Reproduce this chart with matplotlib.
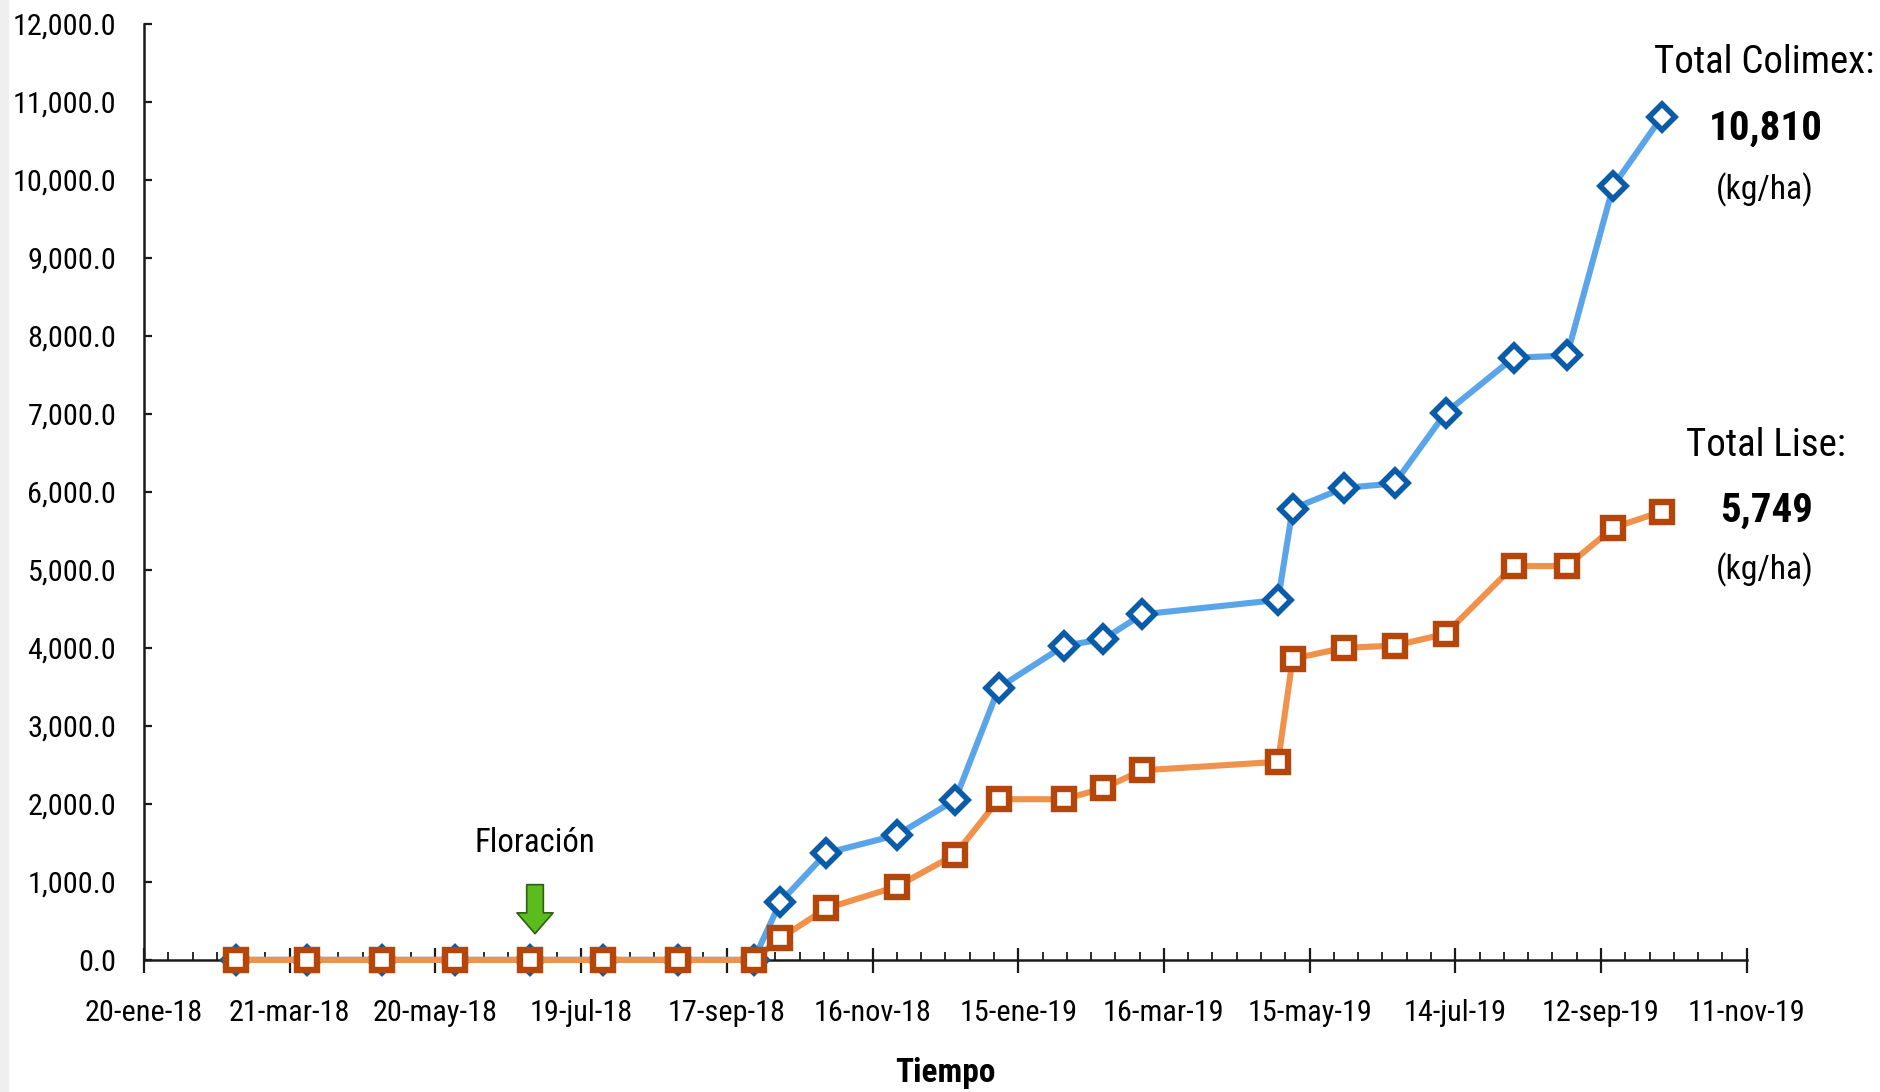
import matplotlib
matplotlib.use("Agg")
import matplotlib.pyplot as plt
import matplotlib.dates as mdates
from matplotlib.ticker import FixedLocator, FuncFormatter
from matplotlib import font_manager as fm
from matplotlib.textpath import text_to_path
from matplotlib.patches import Rectangle
import numpy as np
from datetime import datetime

# ---------------- data ----------------
dates = ['2018-02-27', '2018-03-28', '2018-04-28', '2018-05-28', '2018-06-28',
         '2018-07-28', '2018-08-28', '2018-09-28', '2018-10-09', '2018-10-28',
         '2018-11-26', '2018-12-20', '2019-01-07', '2019-02-03', '2019-02-19',
         '2019-03-07', '2019-05-02', '2019-05-08', '2019-05-29', '2019-06-19',
         '2019-07-10', '2019-08-07', '2019-08-29', '2019-09-17', '2019-10-07']
colimex = [0, 0, 0, 0, 0, 0, 0, 0, 740, 1370, 1600, 2050, 3490, 4030, 4110,
           4430, 4615, 5785, 6050, 6110, 7015, 7720, 7750, 9920, 10810]
lise = [0, 0, 0, 0, 0, 0, 0, 0, 277, 660, 940, 1350, 2060, 2060, 2200,
        2430, 2540, 3860, 4000, 4030, 4180, 5050, 5050, 5540, 5749]

x_tick_dates = ['2018-01-20', '2018-03-21', '2018-05-20', '2018-07-19',
                '2018-09-17', '2018-11-16', '2019-01-15', '2019-03-16',
                '2019-05-15', '2019-07-14', '2019-09-12', '2019-11-11']
x_tick_labels = ['20-ene-18', '21-mar-18', '20-may-18', '19-jul-18',
                 '17-sep-18', '16-nov-18', '15-ene-19', '16-mar-19',
                 '15-may-19', '14-jul-19', '12-sep-19', '11-nov-19']
y_ticks = list(range(0, 12001, 1000))

floracion_date = '2018-06-30'

# ---------------- font choice (narrow if available) ----------------
avail = {(f.name, f.stretch) for f in fm.fontManager.ttflist}
avail_names = {n for n, _ in avail}
family, stretch = 'Roboto', 'normal'
for cand in ['Liberation Sans Narrow', 'Arial Narrow', 'Roboto Condensed',
             'Open Sans Condensed', 'Noto Sans Condensed']:
    if cand in avail_names:
        family, stretch = cand, 'normal'
        break
else:
    if any(n == 'DejaVu Sans' and s in ('condensed', 'semi-condensed') for n, s in avail):
        family, stretch = 'DejaVu Sans', 'condensed'
    elif 'Roboto' not in avail_names:
        family = 'DejaVu Sans'

FONT = [family, 'DejaVu Sans']
plt.rcParams['font.family'] = FONT
plt.rcParams['font.stretch'] = stretch


def fit_size(text, target_px, weight='normal', max_pt=40):
    prop = fm.FontProperties(family=FONT, weight=weight, stretch=stretch, size=10)
    w, h, d = text_to_path.get_text_width_height_descent(text, prop, ismath=False)
    px_per_pt_at10 = w * 100 / 72 / 10
    return min(max_pt, target_px / px_per_pt_at10)


tick_size = min(fit_size('12,000.0', 104), fit_size('20-ene-18', 118))
title_size = fit_size('Total Colimex:', 221)
num_size = fit_size('10,810', 114, weight='bold')
unit_size = fit_size('(kg/ha)', 98)
flor_size = fit_size('Floración', 121)
xl_size = fit_size('Tiempo', 100, weight='bold')

fig = plt.figure(figsize=(18.81, 10.92), dpi=100)
fig.patches.append(Rectangle((0, 0), 0.004, 1, transform=fig.transFigure,
                             color='#EFEFEF', zorder=0))
ax = fig.add_axes([0.0766, 0.121, 0.852, 0.857])

to_dt = lambda s: datetime.strptime(s, '%Y-%m-%d')
xd = [to_dt(d) for d in dates]

ax.plot(xd, colimex, color='#5AA5EA', lw=4.4, marker='D', markersize=13.5,
        markerfacecolor='white', markeredgecolor='#0A5CA8', markeredgewidth=4.0,
        zorder=3, clip_on=False)
ax.plot(xd, lise, color='#F0924C', lw=4.4, marker='s', markersize=15,
        markerfacecolor='white', markeredgecolor='#B4460A', markeredgewidth=4.6,
        zorder=4, clip_on=False)

x0 = to_dt(x_tick_dates[0])
x1 = to_dt(x_tick_dates[-1])
ax.set_xlim(x0, x1)
ax.set_ylim(0, 12000)

major = [mdates.date2num(to_dt(d)) for d in x_tick_dates]
ax.xaxis.set_major_locator(FixedLocator(major))
ax.set_xticklabels(x_tick_labels)
minor = np.arange(major[0], major[-1] + 0.1, 10)
ax.xaxis.set_minor_locator(FixedLocator(minor))

ax.set_yticks(y_ticks)
ax.yaxis.set_major_formatter(FuncFormatter(lambda v, p: f'{v:,.1f}'))

for s in ['top', 'right']:
    ax.spines[s].set_visible(False)
for s in ['left', 'bottom']:
    ax.spines[s].set_linewidth(1.8)
    ax.spines[s].set_color('#1a1a1a')

ax.tick_params(axis='x', which='major', direction='inout', length=18, width=1.6,
               labelsize=tick_size, pad=19, color='#1a1a1a')
ax.tick_params(axis='x', which='minor', direction='in', length=6, width=1.3,
               color='#1a1a1a')
ax.tick_params(axis='y', which='major', direction='in', length=6, width=1.6,
               labelsize=tick_size, pad=20, color='#1a1a1a')

ax.set_xlabel('Tiempo', fontsize=xl_size, fontweight='bold', labelpad=22)

# Floración arrow
fx = to_dt(floracion_date)
ax.annotate('', xy=(fx, 300), xytext=(fx, 1000),
            arrowprops=dict(arrowstyle='simple,head_width=2.6,head_length=1.5,tail_width=1.2',
                            mutation_scale=10, fc='#5CBB1E', ec='#2F5F10', lw=1.2))
ax.text(fx, 1500, 'Floración', fontsize=flor_size, ha='center', va='center')

# Totals annotations
fig.text(0.938, 0.943, 'Total Colimex:', fontsize=title_size, ha='center', va='center')
fig.text(0.939, 0.882, '10,810', fontsize=num_size, fontweight='bold', ha='center', va='center')
fig.text(0.938, 0.826, '(kg/ha)', fontsize=unit_size, ha='center', va='center')

fig.text(0.939, 0.592, 'Total Lise:', fontsize=title_size, ha='center', va='center')
fig.text(0.939, 0.532, '5,749', fontsize=num_size, fontweight='bold', ha='center', va='center')
fig.text(0.938, 0.478, '(kg/ha)', fontsize=unit_size, ha='center', va='center')

fig.savefig('out.png', dpi=100, facecolor='white')
